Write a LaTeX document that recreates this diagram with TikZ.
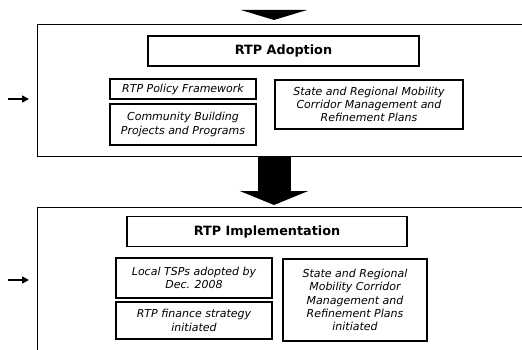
\documentclass[tikz,border=0pt]{standalone}
\usepackage{fontspec}
\setmainfont{DejaVu Sans}
\usetikzlibrary{arrows.meta, calc}
\tikzset{
  every picture/.style={line width=1.4pt},
  stage/.style={draw, fill=white, minimum width=520pt, minimum height=#1, anchor=north west},
  head/.style={draw, fill=white, font=\fontsize{12.8}{15}\selectfont\bfseries, minimum height=30pt},
  item/.style={draw, fill=white, align=center, inner sep=2pt, font=\fontsize{11}{13.3}\selectfont\itshape},
  bigarrow/.style={line width=33pt, -{Triangle[width=68pt, length=14pt]}},
  feed/.style={-{Triangle[length=7pt, width=7pt]}, line width=1.5pt, shorten >=8pt},
}

\begin{document}
\begin{tikzpicture}[x=1pt, y=-1pt]
  \clip (0,0) rectangle (522,350);
  % the two stages, cut off by the right and bottom edge
  \node[stage=132pt] (adopt) at (37,24) {};
  \node[stage=170pt] (impl) at (37,207) {};
  \coordinate (mid) at (274,0);
  % adoption
  \node[head, minimum width=271pt] (adtitle) at (283.5,51) {RTP Adoption};
  \node[item, minimum width=146pt, minimum height=20pt] (policy) at (183,89) {RTP Policy Framework};
  \node[item, minimum width=146pt, minimum height=41pt] (community) at (183,124.5) {Community Building\\Projects and Programs};
  \node[item, minimum width=188pt, minimum height=49pt] (corridor) at (369,104.5) {State and Regional Mobility\\Corridor Management and\\Refinement Plans};
  % implementation
  \node[head, minimum width=280pt] (imtitle) at (267,231.5) {RTP Implementation};
  \node[item, minimum width=156pt, minimum height=40pt] (tsp) at (194,278) {Local TSPs adopted by\\Dec. 2008};
  \node[item, minimum width=156pt, minimum height=37pt] (finance) at (194,320.5) {RTP finance strategy\\initiated};
  \node[item, minimum width=144pt, minimum height=82pt] (plans) at (355,300) {State and Regional\\Mobility Corridor\\Management and\\Refinement Plans\\initiated};
  % block arrows between the stages
  \fill ($(adopt.north -| mid)+(-33,-14)$) -- ++(66,0) -- ($(adopt.north -| mid)+(0,-4)$) -- cycle;
  \draw[bigarrow] (adopt.south -| mid) -- ($(impl.north -| mid)+(0,-2)$);
  % inputs from the left
  \coordinate (inA) at (8,99);
  \coordinate (inB) at (8,280);
  \draw[feed] (inA) -- (inA -| adopt.west);
  \draw[feed] (inB) -- (inB -| impl.west);
\end{tikzpicture}
\end{document}
